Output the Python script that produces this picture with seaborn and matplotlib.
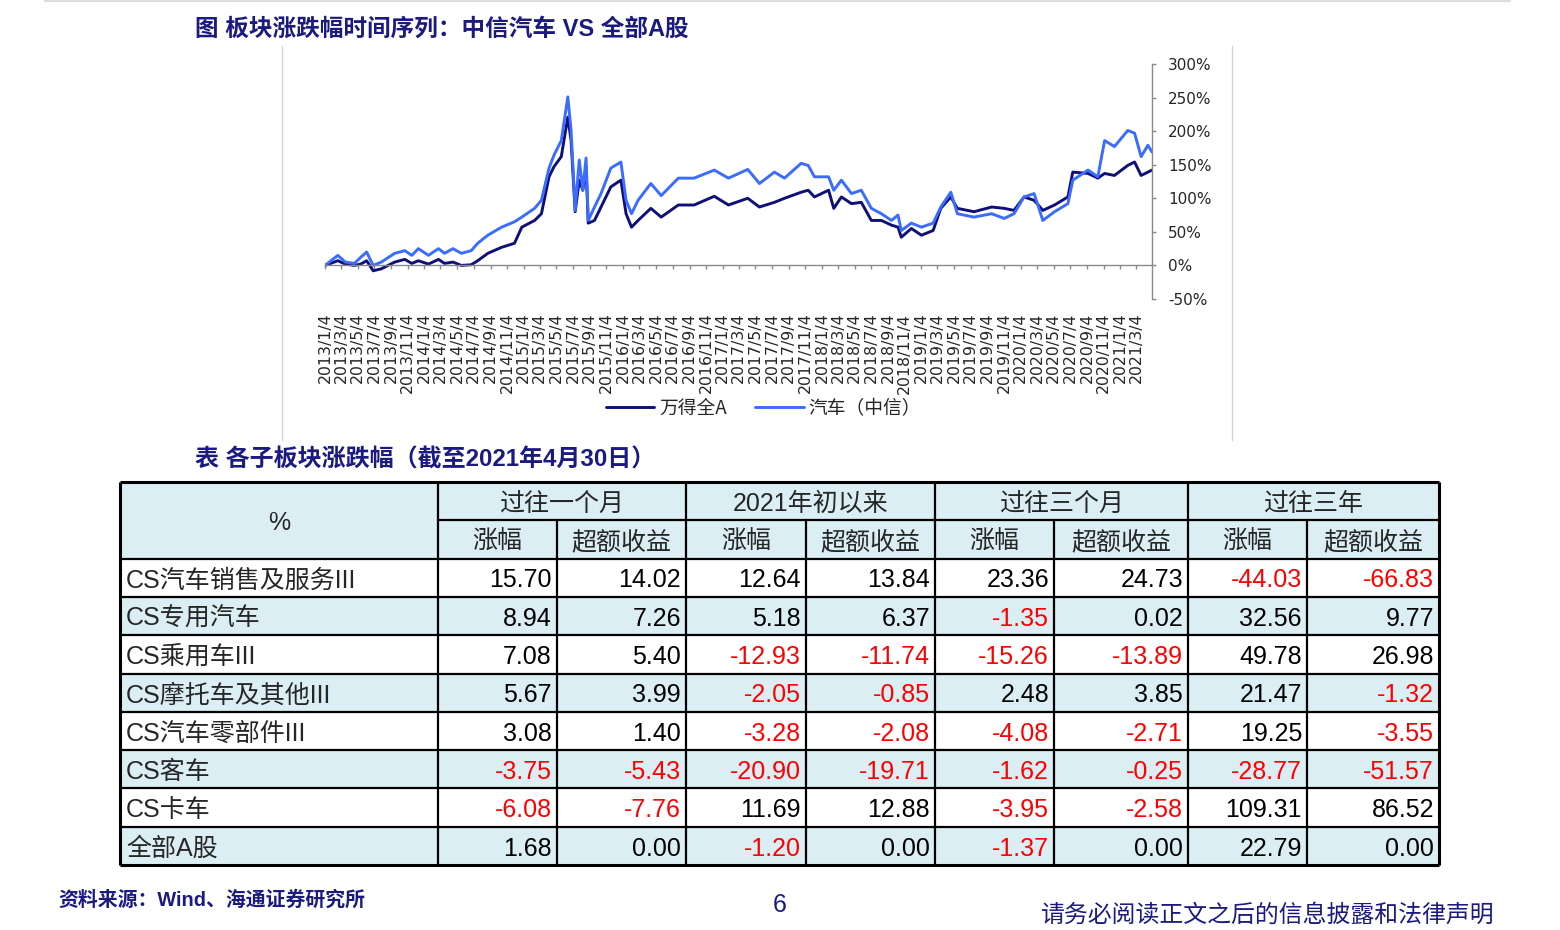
import numpy as np
import pandas as pd
import matplotlib
matplotlib.use("Agg")
import matplotlib.pyplot as plt
import seaborn as sns
from matplotlib.patches import Rectangle
from matplotlib.lines import Line2D

# ---------------- data ----------------
dates = ['2013-01-04', '2013-02-20', '2013-03-20', '2013-04-22', '2013-05-15', '2013-06-06',
         '2013-06-30', '2013-07-30', '2013-09-17', '2013-10-24', '2013-11-19', '2013-12-13',
         '2014-01-19', '2014-02-25', '2014-03-19', '2014-04-19', '2014-05-20', '2014-06-25',
         '2014-07-19', '2014-08-25', '2014-10-15', '2014-12-01', '2014-12-28', '2015-02-13',
         '2015-03-10', '2015-04-07', '2015-04-25', '2015-05-22', '2015-06-15', '2015-06-27',
         '2015-07-12', '2015-07-27', '2015-08-09', '2015-08-21', '2015-08-29', '2015-09-21',
         '2015-10-15', '2015-11-20', '2015-12-27', '2016-01-15', '2016-02-04', '2016-02-28',
         '2016-04-15', '2016-05-23', '2016-07-25', '2016-09-21', '2016-12-04', '2017-01-25',
         '2017-04-06', '2017-05-19', '2017-07-13', '2017-08-19', '2017-10-19', '2017-11-14',
         '2017-12-07', '2018-01-28', '2018-02-16', '2018-03-16', '2018-04-22', '2018-05-28',
         '2018-07-04', '2018-08-10', '2018-09-16', '2018-10-10', '2018-10-22', '2018-11-28',
         '2019-01-04', '2019-02-16', '2019-03-16', '2019-04-22', '2019-05-16', '2019-07-16',
         '2019-09-19', '2019-11-04', '2019-12-10', '2020-01-16', '2020-02-22', '2020-03-25',
         '2020-05-07', '2020-06-25', '2020-07-13', '2020-09-07', '2020-10-13', '2020-11-07',
         '2020-12-13', '2021-01-31', '2021-02-25', '2021-03-21', '2021-04-15', '2021-04-30']
wind_all_a = [0, 7, 2, 0, 2, 7,
              -8, -5, 5, 9, 3, 7,
              2, 9, 3, 5, 0, 1,
              7, 18, 27, 33, 57, 67,
              77, 132, 147, 162, 221, 186,
              80, 127, 112, 147, 63, 67,
              87, 117, 127, 77, 57, 67,
              85, 72, 90, 90, 103, 90,
              100, 87, 94, 100, 109, 112,
              102, 112, 85, 102, 92, 94,
              67, 67, 60, 57, 42, 55,
              45, 52, 85, 102, 85, 80,
              87, 85, 82, 102, 97, 82,
              90, 102, 139, 137, 130, 137,
              134, 149, 154, 134, 139, 142]
auto_citic = [0, 15, 5, 3, 12, 20,
              0, 5, 18, 22, 15, 25,
              15, 25, 18, 25, 18, 22,
              33, 45, 57, 65, 72, 85,
              97, 145, 164, 186, 251, 201,
              82, 157, 112, 160, 67, 87,
              107, 145, 154, 97, 77, 97,
              122, 104, 130, 130, 142, 130,
              143, 122, 139, 130, 152, 149,
              132, 132, 112, 127, 107, 112,
              85, 77, 67, 75, 52, 63,
              57, 63, 87, 109, 77, 72,
              77, 70, 77, 102, 107, 67,
              80, 92, 127, 142, 132, 186,
              177, 201, 197, 162, 179, 169]
series_names = ['万得全A', '汽车（中信）']
series_colors = ['#0f0f78', '#3b6cff']

tick_dates = [f'{y}-{m:02d}-04' for y in range(2013, 2022) for m in range(1, 13, 2)
              if (y, m) <= (2021, 3)]
tick_labels = [f'{y}/{m}/4' for y in range(2013, 2022) for m in range(1, 13, 2)
               if (y, m) <= (2021, 3)]
ytick_values = [-50, 0, 50, 100, 150, 200, 250, 300]

table_groups = ['过往一个月', '2021年初以来', '过往三个月', '过往三年']
table_subheaders = ['涨幅', '超额收益']
row_names = ['CS汽车销售及服务III', 'CS专用汽车', 'CS乘用车III', 'CS摩托车及其他III',
             'CS汽车零部件III', 'CS客车', 'CS卡车', '全部A股']
m1_change = [15.70, 8.94, 7.08, 5.67, 3.08, -3.75, -6.08, 1.68]
m1_excess = [14.02, 7.26, 5.40, 3.99, 1.40, -5.43, -7.76, 0.00]
ytd_change = [12.64, 5.18, -12.93, -2.05, -3.28, -20.90, 11.69, -1.20]
ytd_excess = [13.84, 6.37, -11.74, -0.85, -2.08, -19.71, 12.88, 0.00]
m3_change = [23.36, -1.35, -15.26, 2.48, -4.08, -1.62, -3.95, -1.37]
m3_excess = [24.73, 0.02, -13.89, 3.85, -2.71, -0.25, -2.58, 0.00]
y3_change = [-44.03, 32.56, 49.78, 21.47, 19.25, -28.77, 109.31, 22.79]
y3_excess = [-66.83, 9.77, 26.98, -1.32, -3.55, -51.57, 86.52, 0.00]

# ---------------- style ----------------
sns.set_theme(style='white')
plt.rcParams['font.family'] = ['Liberation Sans', 'Noto Sans CJK SC', 'DejaVu Sans']
plt.rcParams['axes.unicode_minus'] = False

W, H = 1560, 930
fig = plt.figure(figsize=(W / 100, H / 100), dpi=100)
fig.patch.set_facecolor('white')
NAVY = '#1a1a80'


def fx(x):
    return x / W


def fy(y):
    return 1 - y / H


# decorative frame lines
fig.add_artist(Line2D([fx(45), fx(1510)], [fy(1.5), fy(1.5)], color='#dcdcdc', lw=1.5))
fig.add_artist(Line2D([fx(282), fx(282)], [fy(46), fy(440)], color='#d4d4d4', lw=1))
fig.add_artist(Line2D([fx(1232), fx(1232)], [fy(46), fy(440)], color='#d4d4d4', lw=1))

# ---------------- line chart ----------------
ax = fig.add_axes([fx(325), fy(299), (1152 - 325) / W, (299 - 64) / H])
n = len(dates)
df = pd.DataFrame({
    'date': pd.to_datetime(dates * 2),
    'value': wind_all_a + auto_citic,
    'series': [series_names[0]] * n + [series_names[1]] * n,
})
sns.lineplot(data=df, x='date', y='value', hue='series', hue_order=series_names,
             palette=series_colors, linewidth=2.1, legend=False, ax=ax)
ax.set_xlim(pd.Timestamp('2013-01-04'), pd.Timestamp('2021-04-30'))
ax.set_ylim(-50, 300)
ax.set_xlabel('')
ax.set_ylabel('')
for s in ['left', 'top']:
    ax.spines[s].set_visible(False)
ax.spines['bottom'].set_position(('data', 0))
ax.spines['bottom'].set_color('#8a8a8a')
ax.spines['right'].set_color('#8a8a8a')
ax.spines['bottom'].set_linewidth(1)
ax.spines['right'].set_linewidth(1)
ax.yaxis.tick_right()
ax.set_yticks(ytick_values)
ax.set_yticklabels([f'{v}%' for v in ytick_values], fontfamily='DejaVu Sans')
ax.set_xticks(pd.to_datetime(tick_dates))
ax.set_xticklabels(tick_labels, rotation=90, fontfamily='DejaVu Sans')
ax.tick_params(axis='x', direction='out', length=3, width=1, color='#8a8a8a',
               pad=31, labelsize=11.3, labelcolor='#262626', bottom=True)
ax.tick_params(axis='y', direction='out', length=3, width=1, color='#8a8a8a',
               pad=8.5, labelsize=11, labelcolor='#262626', right=True)
ax.set_facecolor('none')

handles = [Line2D([], [], color=c, lw=2.1) for c in series_colors]
ax.legend(handles, series_names, loc='center', bbox_to_anchor=(0.53, -0.465), ncol=2,
          frameon=False, handlelength=2.6, handletextpad=0.25,
          columnspacing=1.5, prop={'family': ['Noto Sans CJK SC'], 'size': 13.5})

# titles and footer
fig.text(fx(195), fy(29), '图 板块涨跌幅时间序列：中信汽车 VS 全部A股', color=NAVY,
         fontsize=17, fontweight='bold', ha='left', va='center')
fig.text(fx(195), fy(460), '表 各子板块涨跌幅（截至2021年4月30日）', color=NAVY,
         fontsize=17.3, fontweight='bold', ha='left', va='center')
fig.text(fx(58), fy(900), '资料来源：Wind、海通证券研究所', color=NAVY,
         fontsize=14.3, fontweight='bold', ha='left', va='center')
fig.text(fx(780), fy(905), '6', color=NAVY, fontsize=18, ha='center', va='center')
fig.text(fx(1495), fy(915), '请务必阅读正文之后的信息披露和法律声明', color=NAVY,
         fontsize=17.2, ha='right', va='center')

# ---------------- table ----------------
tab_left, tab_top, tab_right, tab_bottom = 120, 482, 1439, 865
ax_t = fig.add_axes([fx(tab_left), fy(tab_bottom), (tab_right - tab_left) / W,
                     (tab_bottom - tab_top) / H])
col_edges = [0, 318, 437, 566, 686, 815, 934, 1068, 1187, 1319]
n_rows = 2 + len(row_names)
ax_t.set_xlim(0, col_edges[-1])
ax_t.set_ylim(n_rows, 0)
ax_t.axis('off')

BLUE = '#daeef3'
ax_t.add_patch(Rectangle((0, 0), col_edges[-1], 2, facecolor=BLUE, edgecolor='none'))
for i in range(len(row_names)):
    if i % 2 == 1:
        ax_t.add_patch(Rectangle((0, 2 + i), col_edges[-1], 1, facecolor=BLUE, edgecolor='none'))

LW = 1.6
ax_t.hlines([0, n_rows], 0, col_edges[-1], color='black', lw=2.2, clip_on=False)
ax_t.hlines([1], col_edges[1], col_edges[-1], color='black', lw=LW, clip_on=False)
ax_t.hlines(list(range(2, n_rows)), 0, col_edges[-1], color='black', lw=LW, clip_on=False)
ax_t.vlines([0, col_edges[-1]], 0, n_rows, color='black', lw=2.2, clip_on=False)
ax_t.vlines([col_edges[1], col_edges[3], col_edges[5], col_edges[7]], 0, n_rows,
            color='black', lw=LW, clip_on=False)
ax_t.vlines([col_edges[2], col_edges[4], col_edges[6], col_edges[8]], 1, n_rows,
            color='black', lw=LW, clip_on=False)

FS = 18
DY = 0.07
ax_t.text(col_edges[1] / 2, 1 + DY, '%', fontsize=FS, ha='center', va='center')
for g, name in enumerate(table_groups):
    xc = (col_edges[1 + 2 * g] + col_edges[3 + 2 * g]) / 2
    ax_t.text(xc, 0.5 + DY, name, fontsize=FS, ha='center', va='center')
    for k, sub in enumerate(table_subheaders):
        c = 1 + 2 * g + k
        ax_t.text((col_edges[c] + col_edges[c + 1]) / 2, 1.5 + DY, sub, fontsize=FS,
                  ha='center', va='center')

columns = [m1_change, m1_excess, ytd_change, ytd_excess, m3_change, m3_excess,
           y3_change, y3_excess]
for i, name in enumerate(row_names):
    yc = 2 + i + 0.5 + DY
    ax_t.text(6, yc, name, fontsize=FS, ha='left', va='center')
    for c, col in enumerate(columns):
        v = col[i]
        ax_t.text(col_edges[c + 2] - 5, yc, f'{v:.2f}', fontsize=FS, ha='right',
                  va='center', color='#ff0000' if v < 0 else 'black')

fig.savefig('out.png', dpi=100, facecolor='white')
